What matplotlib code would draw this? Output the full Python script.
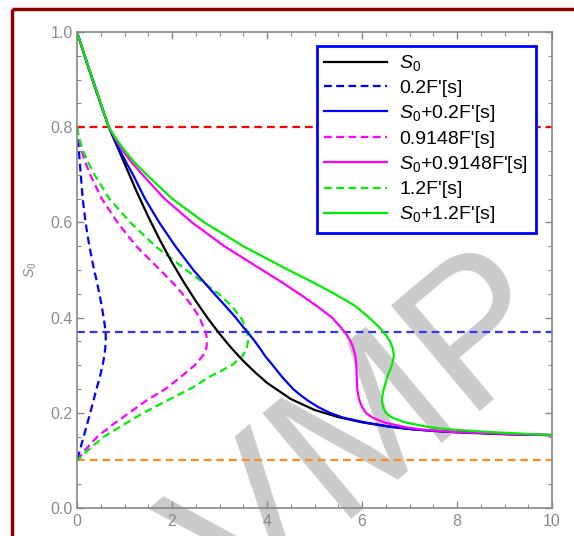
import matplotlib
matplotlib.use("Agg")
import matplotlib.pyplot as plt
from matplotlib.lines import Line2D
from matplotlib.ticker import MultipleLocator, FixedLocator

plt.rcParams['font.family'] = ['Liberation Sans', 'DejaVu Sans']
plt.rcParams['mathtext.fontset'] = 'custom'
plt.rcParams['mathtext.rm'] = 'Liberation Sans'
plt.rcParams['mathtext.it'] = 'Liberation Sans:italic'

# ---- data ----
# S0 curve, y as a function of x
black_x = [0.0, 0.2, 0.4, 0.67, 1.0, 1.25, 1.5, 1.75, 2.0, 2.25, 2.5, 2.75, 3.0, 3.25, 3.5, 3.75,
           4.0, 4.5, 5.0, 5.5, 6.0, 6.5, 7.0, 7.5, 8.0, 9.0, 10.0]
black_y = [1.0, 0.937, 0.877, 0.80, 0.724, 0.666, 0.612, 0.562, 0.516, 0.474, 0.435, 0.399, 0.366,
           0.336, 0.309, 0.285, 0.263, 0.229, 0.206, 0.191, 0.180, 0.172, 0.166, 0.162, 0.159, 0.155, 0.153]

# dashed c*F'[s] curves, x as a function of s
s_dash = [0.800, 0.775, 0.750, 0.725, 0.700, 0.650, 0.600, 0.550, 0.500, 0.475, 0.450, 0.425, 0.400,
          0.380, 0.365, 0.350, 0.335, 0.320, 0.300, 0.275, 0.250, 0.225, 0.200, 0.175, 0.150, 0.125,
          0.110, 0.100]
blue_dash_x = [0.0, 0.02, 0.04, 0.06, 0.08, 0.12, 0.18, 0.26, 0.36, 0.42, 0.47, 0.52, 0.56,
               0.59, 0.605, 0.605, 0.595, 0.575, 0.54, 0.48, 0.41, 0.345, 0.28, 0.21, 0.14, 0.07,
               0.03, 0.0]
mag_dash_x = [0.0, 0.04, 0.10, 0.18, 0.28, 0.52, 0.85, 1.25, 1.75, 2.00, 2.22, 2.42, 2.58,
              2.66, 2.72, 2.74, 2.72, 2.65, 2.48, 2.18, 1.86, 1.45, 1.10, 0.75, 0.43, 0.20,
              0.08, 0.0]
green_dash_x = [0.0, 0.05, 0.13, 0.24, 0.37, 0.68, 1.12, 1.65, 2.30, 2.64, 2.98, 3.25, 3.45,
                3.55, 3.59, 3.60, 3.57, 3.49, 3.26, 2.78, 2.38, 1.88, 1.40, 0.98, 0.57, 0.27,
                0.12, 0.0]

# solid S0 + c*F'[s] curves, x as a function of s
s_solid = [1.0, 0.9, 0.8, 0.775, 0.75, 0.725, 0.7, 0.65, 0.6, 0.55, 0.5, 0.475, 0.45, 0.425, 0.4,
           0.38, 0.365, 0.35, 0.335, 0.32, 0.3, 0.275, 0.25, 0.2375, 0.225, 0.2125, 0.2, 0.19, 0.18,
           0.17, 0.165, 0.16, 0.157, 0.155, 0.153]
blue_solid_x = [0.0, 0.33, 0.67, 0.79, 0.91, 1.04, 1.18, 1.43, 1.73, 2.07, 2.45, 2.67, 2.89, 3.12, 3.34,
                3.50, 3.625, 3.745, 3.855, 3.955, 4.12, 4.32, 4.55, 4.70, 4.87, 5.07, 5.32, 5.60, 6.05,
                6.65, 7.08, 7.85, 8.65, 9.15, 10.1]
mag_solid_x = [0.0, 0.33, 0.67, 0.81, 0.97, 1.16, 1.38, 1.84, 2.42, 3.10, 3.90, 4.30, 4.68, 5.04, 5.37,
               5.55, 5.67, 5.76, 5.82, 5.86, 5.88, 5.89, 5.90, 5.92, 5.95, 6.00, 6.08, 6.22, 6.46,
               6.90, 7.25, 7.90, 8.70, 9.20, 10.1]
green_solid_x = [0.0, 0.33, 0.67, 0.83, 1.01, 1.22, 1.47, 2.00, 2.68, 3.50, 4.45, 4.95, 5.42, 5.85, 6.15,
                 6.36, 6.49, 6.59, 6.65, 6.67, 6.63, 6.53, 6.46, 6.43, 6.42, 6.44, 6.50, 6.63, 6.90,
                 7.40, 7.85, 8.60, 9.20, 9.60, 10.2]

# horizontal reference levels
h_levels = [0.8, 0.37, 0.1]
h_colors = ['#ff0000', '#3333ff', '#ff8c1a']

labels = ['$S_0$', "0.2F'[s]", "$S_0$+0.2F'[s]", "0.9148F'[s]", "$S_0$+0.9148F'[s]", "1.2F'[s]", "$S_0$+1.2F'[s]"]

BLUE = '#0000ff'
MAG = '#ff00ff'
GREEN = '#00ee00'
dash = (3.5, 2.0)

fig = plt.figure(figsize=(5.74, 5.36), dpi=100)
ax = fig.add_axes([77/574, 1-508/536, 475/574, 476/536])
ax.patch.set_visible(False)

# watermark behind everything
fig.text(370/574, 1-435/536, 'VMP', fontsize=145, color='#cbcbcb', rotation=40,
         ha='center', va='center', rotation_mode='anchor', zorder=-5)

# dark red frame (partly outside the image)
fig.add_artist(Line2D([11.5/574, 11.5/574], [0, 1-8.5/536], color='#8b0000', lw=2.5, solid_capstyle='butt'))
fig.add_artist(Line2D([11.5/574, 1.0], [1-8.5/536, 1-8.5/536], color='#8b0000', lw=2.5, solid_capstyle='butt'))

for lev, col in zip(h_levels, h_colors):
    ax.axhline(lev, color=col, lw=1.6, dashes=(3.5, 2.2))

h_bd, = ax.plot(blue_dash_x, s_dash, color=BLUE, lw=1.6, dashes=dash)
h_md, = ax.plot(mag_dash_x, s_dash, color=MAG, lw=1.6, dashes=dash)
h_gd, = ax.plot(green_dash_x, s_dash, color=GREEN, lw=1.6, dashes=dash)

h_k, = ax.plot(black_x, black_y, color='black', lw=1.6)
h_bs, = ax.plot(blue_solid_x, s_solid, color=BLUE, lw=1.6)
h_ms, = ax.plot(mag_solid_x, s_solid, color=MAG, lw=1.6)
h_gs, = ax.plot(green_solid_x, s_solid, color=GREEN, lw=1.6)

ax.set_xlim(0, 10)
ax.set_ylim(0, 1.0)
ax.xaxis.set_major_locator(FixedLocator([0, 2, 4, 6, 8, 10]))
ax.xaxis.set_minor_locator(MultipleLocator(0.5))
ax.yaxis.set_major_locator(FixedLocator([0, 0.2, 0.4, 0.6, 0.8, 1.0]))
ax.yaxis.set_minor_locator(MultipleLocator(0.05))
ax.set_xticklabels(['0', '2', '4', '6', '8', '10'])
ax.set_yticklabels(['0.0', '0.2', '0.4', '0.6', '0.8', '1.0'])
ax.tick_params(which='both', direction='in', top=True, right=True, color='#888888',
               labelcolor='#8a8a8a', labelsize=11.5)
ax.tick_params(which='major', length=5, width=1)
ax.tick_params(which='minor', length=3, width=0.8)
ax.tick_params(axis='x', pad=4)
ax.tick_params(axis='y', pad=3)
for sp in ax.spines.values():
    sp.set_color('#888888')
    sp.set_linewidth(1.2)

ax.set_ylabel('$S_0$', color='#8a8a8a', fontsize=10)
ax.yaxis.set_label_coords((39-77)/475, 0.5)

handles = [h_k, h_bd, h_bs, h_md, h_ms, h_gd, h_gs]
leg = ax.legend(handles, labels, loc='upper left', bbox_to_anchor=(317/574, 1-46/536),
                bbox_transform=fig.transFigure, fancybox=False, framealpha=1,
                edgecolor=BLUE, fontsize=14, handlelength=3.2, handletextpad=0.65,
                labelspacing=0.31, borderpad=0.38, borderaxespad=0)
leg.get_frame().set_linewidth(2)

fig.savefig('out.png', dpi=100)
